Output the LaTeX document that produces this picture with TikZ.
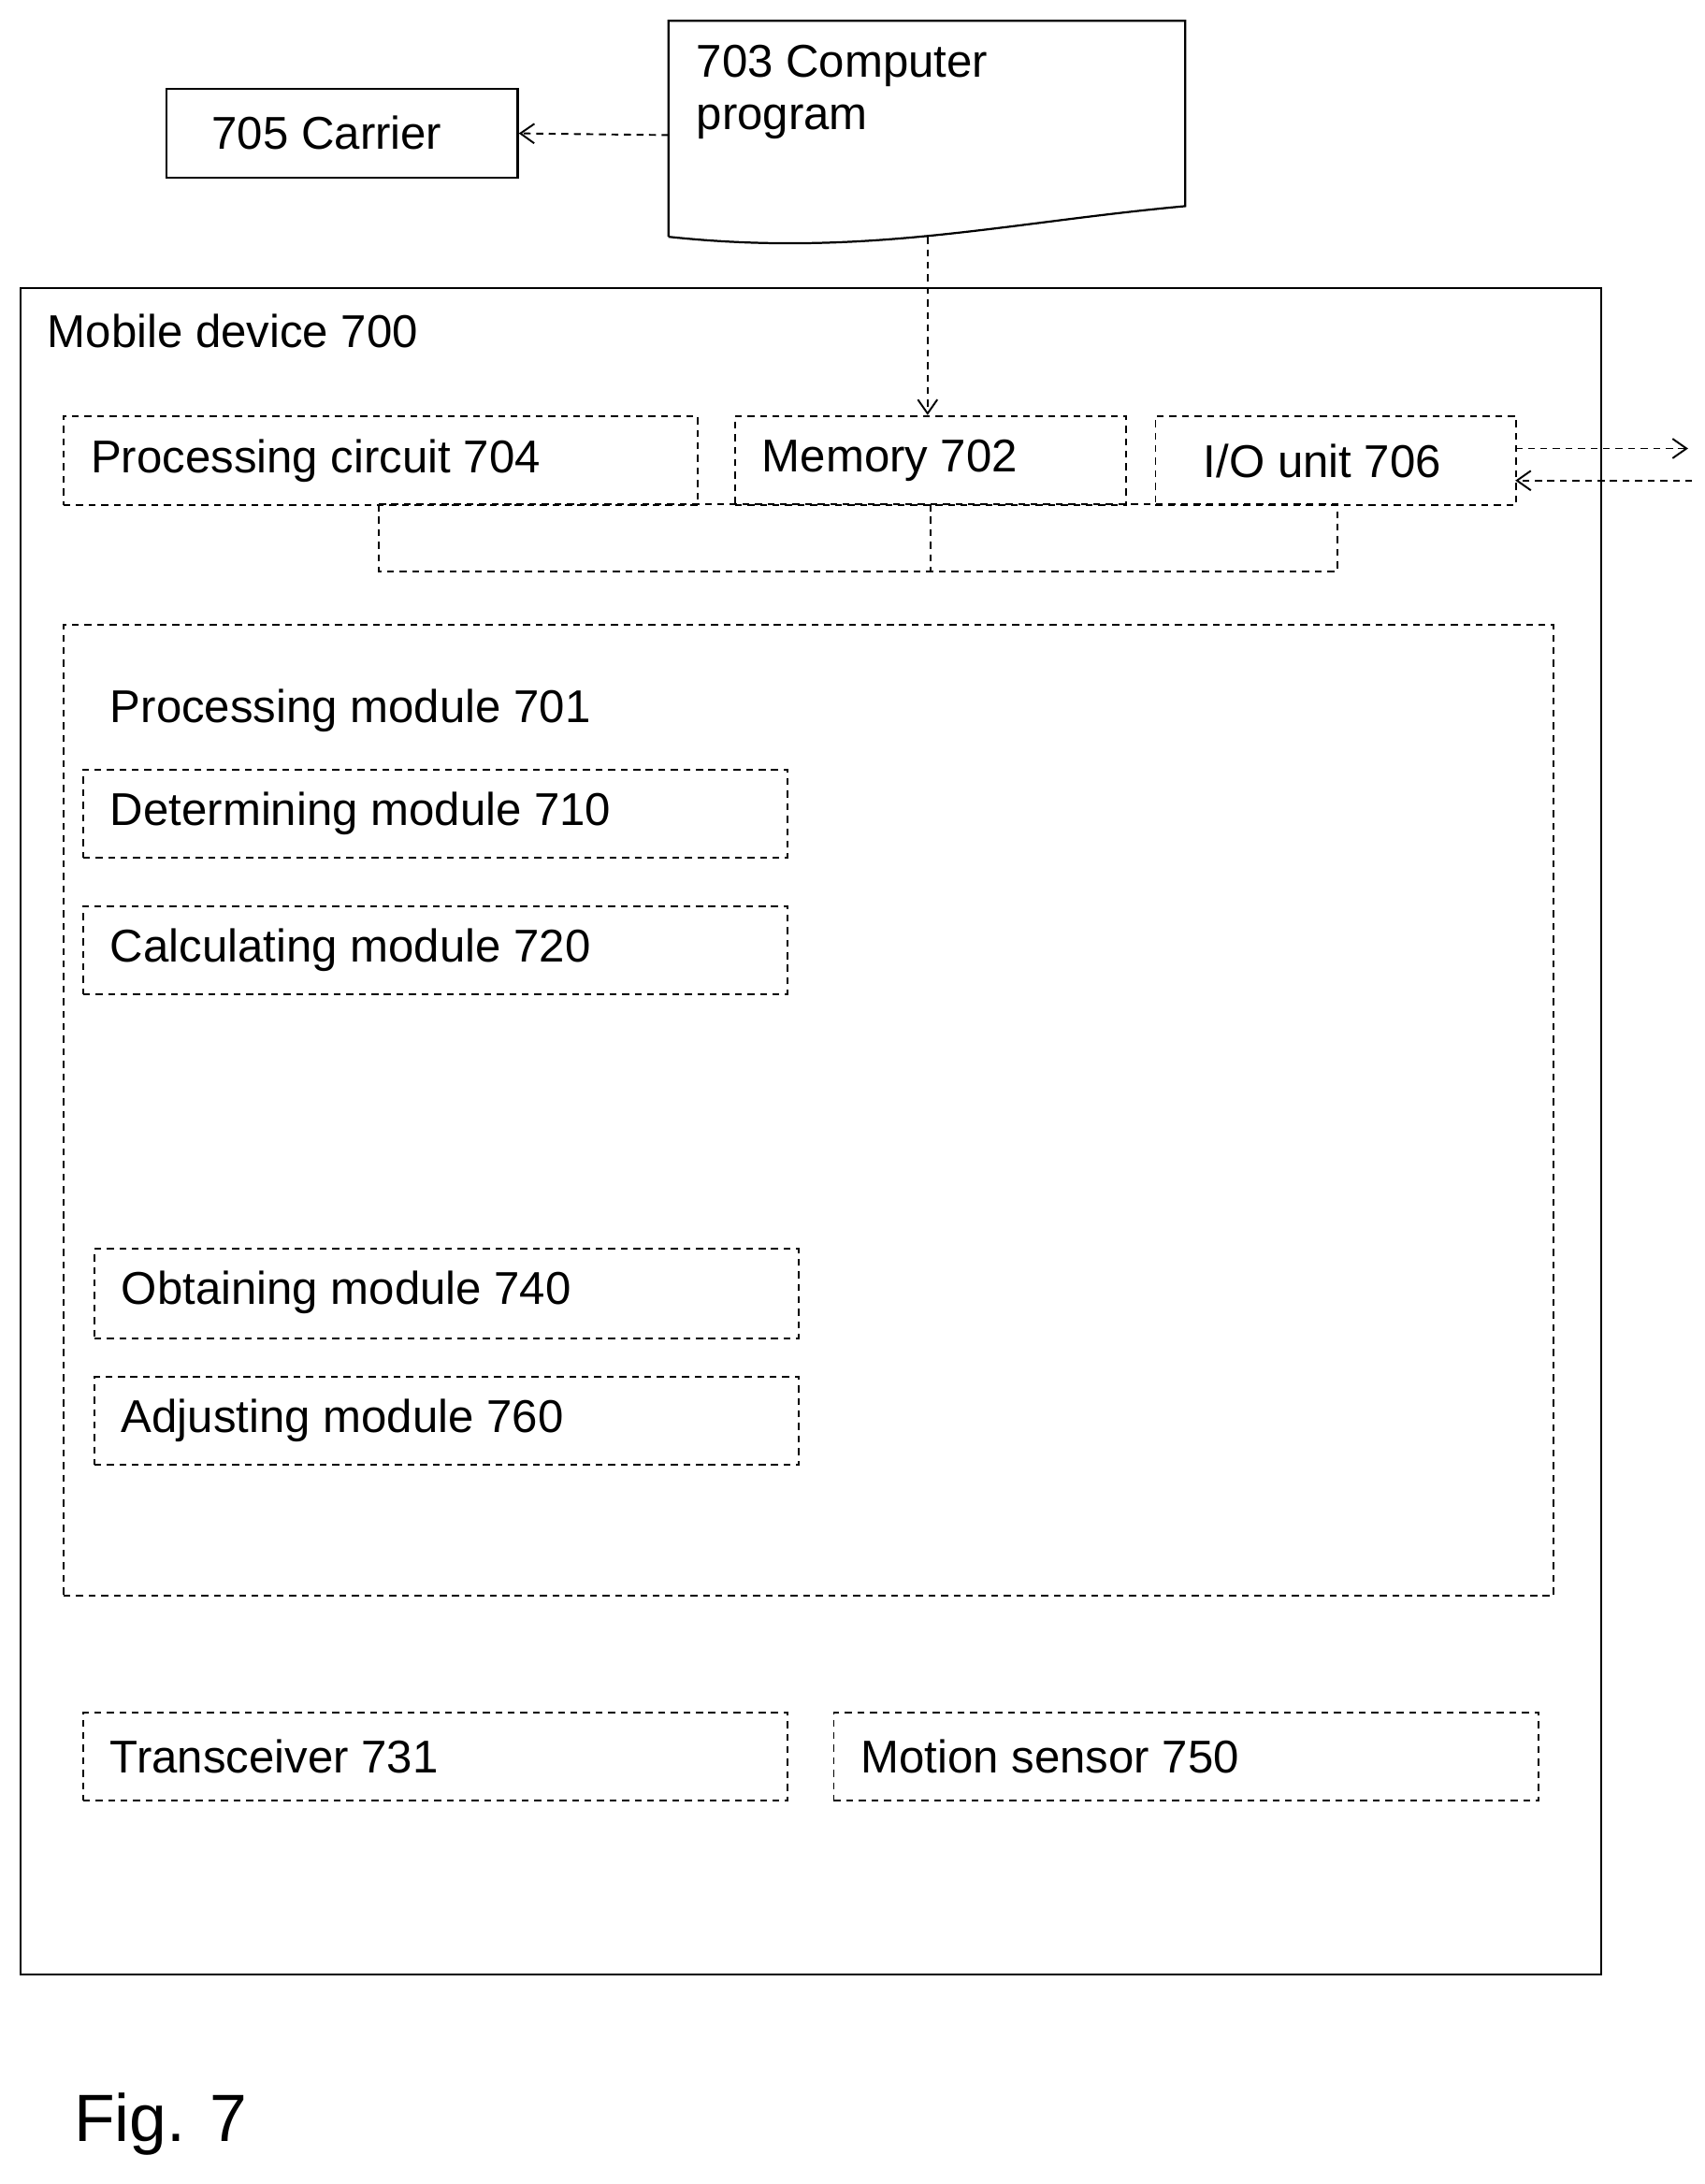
\documentclass[tikz,border=0pt]{standalone}
\usepackage{fontspec}
\setmainfont{Liberation Sans}
\begin{document}
\begin{tikzpicture}[x=1pt,y=-1pt,
  lbl/.style={font=\fontsize{33}{38}\selectfont,anchor=west,inner sep=0},
  db/.style={draw,dashed,line width=1.3pt,dash pattern=on 5pt off 4pt},
  sb/.style={draw,line width=1.5pt},
  arr/.style={db,-{Straight Barb[length=10pt,width=14pt]}}]
\useasboundingbox (0,0) rectangle (1224,1568);
\usetikzlibrary{arrows.meta}
% carrier
\node[sb,minimum width=252pt,minimum height=64pt,anchor=north west] (car) at (119,63) {};
\node[lbl] at (152,95) {705 Carrier};
% computer program
\draw[line width=1.5pt] (480,170) -- (480,15) -- (851,15) -- (851,148) .. controls (720,160) and (620,185) .. (480,170);
\node[lbl,align=left,anchor=north west] (cp) at (500,32) {703 Computer\\program};
\coordinate (cpl) at (480,97);
\coordinate (cpb) at (666,170);
\draw[arr] (cpl) -- (car.east);
% mobile device
\node[sb,minimum width=1135pt,minimum height=1211pt,anchor=north west] (md) at (14,206) {};
\node[lbl] at (34,238) {Mobile device 700};
\node[db,minimum width=455pt,minimum height=64pt,anchor=north west] (pc) at (45,298) {};
\node[lbl] at (65,331) {Processing circuit 704};
\node[db,minimum width=281pt,minimum height=64pt,anchor=north west] (mem) at (527,298) {};
\node[lbl] at (547,331) {Memory 702};
\node[db,minimum width=259pt,minimum height=64pt,anchor=north west] (io) at (829,298) {};
\node[lbl] at (864,331) {I/O unit 706};
\draw[arr] (cpb) -- (666,298);
\draw[db] (272,362) rectangle (960,410);
\draw[db] (668,362) -- (668,410);
\coordinate (o1) at (1212,322);
\coordinate (o2) at (1215,345);
\draw[arr] (1088,322) -- (o1);
\draw[arr] (o2) -- (1088,345);
% processing module
\node[db,minimum width=1070pt,minimum height=697pt,anchor=north west] (pm) at (45,448) {};
\node[lbl] at (79,510) {Processing module 701};
\node[db,minimum width=506pt,minimum height=63pt,anchor=north west] (d) at (59,552) {};
\node[lbl] at (79,584) {Determining module 710};
\node[db,minimum width=506pt,minimum height=63pt,anchor=north west] (c) at (59,650) {};
\node[lbl] at (79,682) {Calculating module 720};
\node[db,minimum width=506pt,minimum height=64pt,anchor=north west] (o) at (67,896) {};
\node[lbl] at (87,928) {Obtaining module 740};
\node[db,minimum width=506pt,minimum height=63pt,anchor=north west] (a) at (67,988) {};
\node[lbl] at (87,1020) {Adjusting module 760};
\node[db,minimum width=506pt,minimum height=63pt,anchor=north west] (t) at (59,1229) {};
\node[lbl] at (79,1261) {Transceiver 731};
\node[db,minimum width=506pt,minimum height=63pt,anchor=north west] (m) at (598,1229) {};
\node[lbl] at (618,1261) {Motion sensor 750};
\node[lbl,font=\fontsize{48}{54}\selectfont] at (53,1525) {Fig. 7};
\end{tikzpicture}
\end{document}
